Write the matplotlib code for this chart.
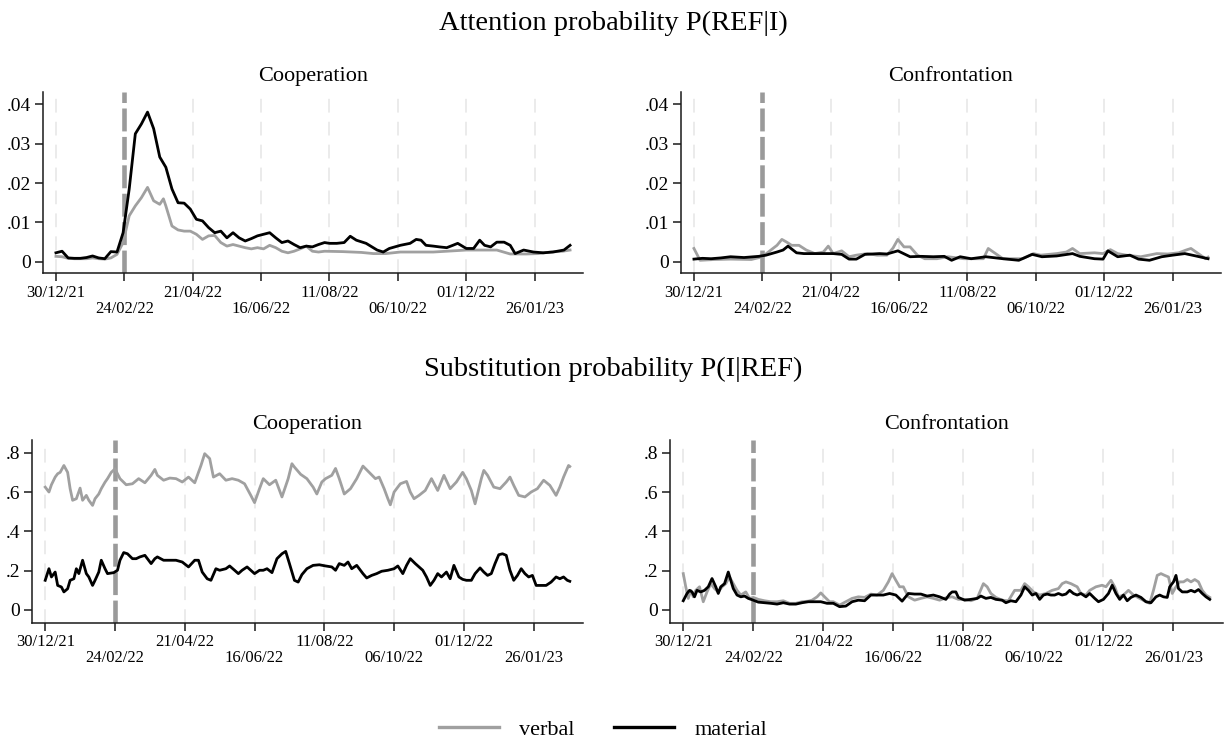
import matplotlib
matplotlib.use("Agg")
import matplotlib.pyplot as plt
import pandas as pd
from matplotlib.lines import Line2D

plt.rcParams['font.family'] = ['Liberation Serif', 'DejaVu Serif']

# ---------------- data ----------------
start_date = "2021-12-30"
event_date = "24/02/22"
tick_labels = ['30/12/21', '24/02/22', '21/04/22', '16/06/22',
               '11/08/22', '06/10/22', '01/12/22', '26/01/23']
series_names = ['verbal', 'material']
main_titles = ['Attention probability P(REF|I)', 'Substitution probability P(I|REF)']
panel_titles = ['Cooperation', 'Confrontation']
att_yticks = [0, 0.01, 0.02, 0.03, 0.04]
att_ylabels = ['0', '.01', '.02', '.03', '.04']
sub_yticks = [0, 0.2, 0.4, 0.6, 0.8]
sub_ylabels = ['0', '.2', '.4', '.6', '.8']

# Attention, Cooperation
att_coop_verbal_days = [0, 5, 10, 15, 20, 25, 30, 35, 40, 45, 50, 55, 60, 65, 70, 75, 80, 85, 88, 90,
                        95, 100, 105, 110, 115, 120, 125, 130, 135, 140, 145, 150, 155, 160, 165, 170,
                        175, 180, 185, 190, 195, 200, 205, 210, 215, 220, 235, 250, 260, 270, 282, 295,
                        309, 320, 336, 350, 361, 372, 385, 395, 405, 415, 421]
att_coop_verbal = [0.0014, 0.0013, 0.0009, 0.0008, 0.0008, 0.0008, 0.001, 0.0008, 0.0007, 0.001,
                   0.0019, 0.0049, 0.0117, 0.0142, 0.0163, 0.0189, 0.0155, 0.0146, 0.016, 0.0142,
                   0.0091, 0.0081, 0.0078, 0.0078, 0.007, 0.0057, 0.0066, 0.0067, 0.0049, 0.004,
                   0.0044, 0.004, 0.0036, 0.0033, 0.0036, 0.0033, 0.0042, 0.0036, 0.0027, 0.0023,
                   0.0027, 0.0033, 0.004, 0.0027, 0.0025, 0.0027, 0.0026, 0.0024, 0.0021, 0.0021,
                   0.0025, 0.0025, 0.0025, 0.0027, 0.003, 0.003, 0.003, 0.002, 0.002, 0.0021,
                   0.0025, 0.0027, 0.003]
att_coop_material_days = [0, 5, 10, 15, 20, 25, 30, 35, 40, 45, 50, 55, 60, 65, 70, 75, 80, 85, 90, 95,
                          100, 105, 110, 115, 120, 125, 130, 135, 140, 145, 150, 155, 160, 165, 170,
                          175, 180, 185, 190, 195, 200, 205, 210, 215, 220, 224, 230, 236, 241, 246,
                          254, 263, 268, 273, 282, 290, 295, 299, 303, 309, 314, 320, 325, 329, 336,
                          342, 347, 351, 356, 361, 367, 372, 376, 383, 391, 399, 407, 416, 421]
att_coop_material = [0.0023, 0.0027, 0.001, 0.0009, 0.0009, 0.0011, 0.0015, 0.001, 0.0008, 0.0026,
                     0.0025, 0.0074, 0.0185, 0.0325, 0.035, 0.038, 0.0338, 0.0266, 0.024, 0.0185,
                     0.015, 0.0149, 0.0134, 0.0108, 0.0104, 0.0087, 0.0074, 0.0078, 0.0061, 0.0074,
                     0.0061, 0.0053, 0.0059, 0.0066, 0.007, 0.0074, 0.0061, 0.0049, 0.0053, 0.0044,
                     0.0036, 0.004, 0.0038, 0.0044, 0.0049, 0.0047, 0.0047, 0.0049, 0.0065, 0.0055,
                     0.0047, 0.003, 0.0025, 0.0034, 0.0042, 0.0047, 0.0057, 0.0055, 0.0042, 0.004,
                     0.0038, 0.0036, 0.0042, 0.0047, 0.0034, 0.0034, 0.0055, 0.0042, 0.0038, 0.005,
                     0.005, 0.0042, 0.0021, 0.003, 0.0025, 0.0023, 0.0025, 0.003, 0.0042]

# Attention, Confrontation
att_conf_verbal_days = [0, 5, 17, 30, 47, 56, 63, 68, 72, 76, 80, 86, 92, 99, 106, 110, 114, 121, 127,
                        133, 142, 150, 158, 163, 167, 172, 177, 183, 189, 199, 208, 221, 237, 241, 247,
                        253, 269, 278, 284, 297, 305, 310, 316, 328, 335, 341, 347, 354, 366, 379, 388,
                        397, 403, 407, 413, 419, 421]
att_conf_verbal = [0.0034, 0.0004, 0.0006, 0.0007, 0.0006, 0.0013, 0.003, 0.0042, 0.0057, 0.005,
                   0.0042, 0.0042, 0.003, 0.0021, 0.0025, 0.004, 0.0021, 0.0028, 0.0013, 0.0017,
                   0.0021, 0.0017, 0.0017, 0.0035, 0.0057, 0.0038, 0.0038, 0.0017, 0.0008, 0.0008,
                   0.0013, 0.0008, 0.0008, 0.0034, 0.0021, 0.0008, 0.0008, 0.0021, 0.0017, 0.0021,
                   0.0025, 0.0034, 0.0021, 0.0023, 0.0021, 0.0031, 0.0021, 0.0017, 0.0013, 0.0021,
                   0.002, 0.0023, 0.003, 0.0034, 0.0021, 0.0008, 0.0012]
att_conf_material_days = [0, 7, 14, 22, 30, 41, 53, 59, 68, 73, 77, 84, 90, 102, 114, 121, 127, 133,
                          140, 152, 158, 167, 177, 186, 196, 205, 211, 218, 227, 239, 253, 266, 277,
                          285, 297, 310, 316, 328, 335, 339, 347, 357, 364, 373, 383, 392, 402, 411, 421]
att_conf_material = [0.0007, 0.0009, 0.0008, 0.001, 0.0013, 0.0011, 0.0014, 0.0017, 0.0025, 0.003,
                     0.004, 0.0023, 0.0021, 0.0021, 0.0021, 0.0019, 0.0007, 0.0007, 0.0019, 0.0021,
                     0.002, 0.0028, 0.0013, 0.0014, 0.0013, 0.0014, 0.0004, 0.0013, 0.0008, 0.0013,
                     0.0008, 0.0004, 0.0019, 0.0013, 0.0015, 0.0021, 0.0014, 0.0008, 0.0007, 0.0028,
                     0.0013, 0.0017, 0.0007, 0.0004, 0.0013, 0.0017, 0.0021, 0.0015, 0.0008]

# Substitution, Cooperation
sub_coop_verbal_days = [0, 3, 5, 8, 10, 12, 15, 18, 20, 22, 25, 28, 30, 33, 35, 38, 40, 43, 45, 48, 50,
                        53, 56, 60, 65, 70, 75, 80, 85, 88, 90, 95, 100, 105, 110, 115, 120, 125, 128,
                        132, 135, 140, 145, 150, 155, 160, 165, 168, 172, 175, 180, 185, 190, 195, 198,
                        200, 205, 210, 215, 218, 222, 225, 230, 233, 236, 240, 245, 250, 255, 260, 265,
                        268, 272, 275, 277, 280, 285, 290, 293, 296, 300, 305, 310, 315, 320, 325, 330,
                        335, 338, 342, 345, 350, 352, 355, 360, 365, 370, 373, 376, 380, 385, 390, 395,
                        400, 405, 410, 413, 416, 420, 421]
sub_coop_verbal = [0.625, 0.60, 0.637, 0.676, 0.693, 0.70, 0.735, 0.70, 0.617, 0.558, 0.566, 0.62,
                   0.558, 0.583, 0.558, 0.532, 0.566, 0.59, 0.617, 0.65, 0.668, 0.70, 0.718, 0.668,
                   0.637, 0.642, 0.668, 0.647, 0.685, 0.715, 0.685, 0.66, 0.671, 0.668, 0.651, 0.676,
                   0.647, 0.735, 0.795, 0.77, 0.676, 0.693, 0.66, 0.668, 0.66, 0.642, 0.583, 0.546,
                   0.617, 0.668, 0.637, 0.66, 0.575, 0.668, 0.744, 0.727, 0.69, 0.668, 0.625, 0.59,
                   0.651, 0.668, 0.685, 0.72, 0.668, 0.59, 0.617, 0.668, 0.732, 0.70, 0.668, 0.676,
                   0.617, 0.566, 0.535, 0.60, 0.642, 0.654, 0.60, 0.566, 0.583, 0.608, 0.668, 0.608,
                   0.685, 0.617, 0.651, 0.70, 0.668, 0.608, 0.54, 0.668, 0.71, 0.685, 0.625, 0.617,
                   0.651, 0.676, 0.634, 0.583, 0.575, 0.60, 0.617, 0.66, 0.634, 0.583, 0.625, 0.676,
                   0.735, 0.73]
sub_coop_material_days = [0, 3, 5, 8, 10, 13, 15, 18, 20, 23, 25, 27, 30, 33, 35, 38, 40, 43, 45, 48,
                          50, 55, 58, 60, 63, 66, 70, 73, 76, 80, 85, 88, 90, 95, 100, 105, 110, 115,
                          120, 123, 126, 130, 133, 137, 140, 145, 148, 152, 155, 158, 162, 165, 168,
                          172, 175, 178, 182, 186, 190, 193, 196, 200, 203, 206, 210, 215, 220, 225,
                          230, 233, 236, 240, 243, 246, 250, 255, 258, 262, 266, 270, 275, 280, 283,
                          287, 290, 293, 297, 300, 303, 306, 309, 312, 315, 318, 322, 325, 328, 332,
                          335, 338, 342, 345, 349, 352, 355, 358, 361, 364, 367, 370, 373, 376, 379,
                          382, 385, 388, 391, 394, 398, 402, 406, 410, 413, 416, 419, 421]
sub_coop_material = [0.151, 0.21, 0.168, 0.193, 0.125, 0.117, 0.092, 0.108, 0.151, 0.159, 0.21, 0.185,
                     0.253, 0.185, 0.168, 0.125, 0.151, 0.193, 0.253, 0.21, 0.185, 0.19, 0.202, 0.253,
                     0.292, 0.286, 0.261, 0.261, 0.27, 0.278, 0.236, 0.261, 0.27, 0.253, 0.253, 0.253,
                     0.244, 0.219, 0.253, 0.253, 0.193, 0.159, 0.151, 0.21, 0.202, 0.21, 0.224, 0.202,
                     0.185, 0.202, 0.219, 0.202, 0.185, 0.202, 0.202, 0.21, 0.19, 0.261, 0.286, 0.298,
                     0.236, 0.151, 0.142, 0.18, 0.21, 0.227, 0.23, 0.224, 0.219, 0.202, 0.236, 0.227,
                     0.244, 0.21, 0.227, 0.185, 0.163, 0.176, 0.185, 0.197, 0.202, 0.21, 0.224, 0.185,
                     0.227, 0.261, 0.236, 0.219, 0.202, 0.168, 0.125, 0.151, 0.185, 0.168, 0.193, 0.159,
                     0.227, 0.168, 0.156, 0.151, 0.151, 0.185, 0.214, 0.193, 0.176, 0.185, 0.236, 0.281,
                     0.286, 0.278, 0.202, 0.151, 0.176, 0.21, 0.185, 0.168, 0.176, 0.125, 0.125, 0.125,
                     0.142, 0.168, 0.159, 0.168, 0.151, 0.146]

# Substitution, Confrontation
sub_conf_verbal_days = [0, 2, 4, 6, 8, 10, 13, 16, 19, 22, 25, 28, 31, 34, 37, 40, 43, 46, 50, 53, 56,
                        60, 65, 70, 75, 80, 85, 90, 95, 100, 103, 107, 110, 113, 117, 120, 125, 130, 135,
                        140, 145, 150, 155, 160, 164, 167, 170, 173, 176, 180, 185, 190, 195, 200, 205,
                        210, 215, 220, 225, 230, 235, 240, 243, 246, 250, 255, 260, 265, 270, 273, 276,
                        280, 285, 290, 295, 300, 303, 306, 310, 315, 318, 322, 325, 330, 335, 338, 342,
                        345, 348, 352, 356, 360, 365, 370, 373, 376, 379, 382, 385, 388, 391, 394, 397,
                        400, 403, 406, 409, 412, 415, 418, 421]
sub_conf_verbal = [0.185, 0.118, 0.059, 0.10, 0.067, 0.10, 0.118, 0.042, 0.092, 0.134, 0.109, 0.092,
                   0.118, 0.134, 0.168, 0.134, 0.10, 0.076, 0.092, 0.059, 0.064, 0.054, 0.047, 0.042,
                   0.042, 0.047, 0.034, 0.034, 0.042, 0.045, 0.05, 0.067, 0.087, 0.067, 0.042, 0.042,
                   0.025, 0.042, 0.059, 0.067, 0.064, 0.081, 0.076, 0.10, 0.143, 0.185, 0.151, 0.118,
                   0.118, 0.067, 0.05, 0.059, 0.067, 0.059, 0.05, 0.062, 0.067, 0.054, 0.054, 0.047,
                   0.059, 0.134, 0.118, 0.084, 0.064, 0.05, 0.047, 0.10, 0.10, 0.134, 0.118, 0.092,
                   0.076, 0.084, 0.10, 0.109, 0.134, 0.143, 0.134, 0.118, 0.084, 0.076, 0.10, 0.118,
                   0.126, 0.118, 0.151, 0.118, 0.067, 0.076, 0.10, 0.076, 0.059, 0.042, 0.034, 0.10,
                   0.176, 0.185, 0.176, 0.168, 0.084, 0.118, 0.143, 0.143, 0.155, 0.143, 0.155, 0.143,
                   0.10, 0.076, 0.064]
sub_conf_material_days = [0, 3, 5, 7, 9, 11, 14, 17, 20, 23, 26, 28, 30, 33, 36, 38, 40, 43, 46, 49, 52,
                          56, 60, 65, 70, 75, 80, 85, 90, 95, 100, 105, 110, 115, 120, 125, 130, 135,
                          140, 145, 150, 155, 160, 165, 170, 175, 180, 185, 190, 195, 200, 205, 210,
                          213, 215, 218, 220, 225, 230, 235, 238, 242, 246, 250, 255, 258, 262, 266,
                          270, 273, 276, 279, 282, 285, 288, 291, 294, 297, 300, 303, 306, 309, 312,
                          315, 318, 322, 325, 329, 332, 336, 340, 343, 346, 349, 352, 355, 358, 362,
                          366, 370, 374, 378, 381, 384, 387, 389, 392, 394, 396, 399, 403, 406, 409,
                          412, 415, 418, 421]
sub_conf_material = [0.047, 0.084, 0.10, 0.092, 0.067, 0.10, 0.092, 0.10, 0.118, 0.16, 0.118, 0.084,
                     0.118, 0.134, 0.193, 0.151, 0.109, 0.076, 0.067, 0.071, 0.059, 0.05, 0.04, 0.037,
                     0.034, 0.03, 0.037, 0.03, 0.03, 0.037, 0.042, 0.042, 0.042, 0.034, 0.034, 0.017,
                     0.02, 0.042, 0.05, 0.047, 0.076, 0.076, 0.076, 0.084, 0.076, 0.045, 0.084, 0.081,
                     0.081, 0.071, 0.076, 0.067, 0.054, 0.081, 0.092, 0.092, 0.064, 0.05, 0.054, 0.059,
                     0.071, 0.059, 0.064, 0.054, 0.05, 0.037, 0.047, 0.042, 0.076, 0.118, 0.10, 0.076,
                     0.084, 0.054, 0.076, 0.081, 0.076, 0.076, 0.084, 0.076, 0.081, 0.10, 0.084, 0.076,
                     0.084, 0.067, 0.084, 0.059, 0.042, 0.054, 0.084, 0.126, 0.084, 0.054, 0.076, 0.047,
                     0.064, 0.076, 0.064, 0.042, 0.037, 0.067, 0.076, 0.067, 0.064, 0.118, 0.143, 0.176,
                     0.109, 0.092, 0.092, 0.10, 0.092, 0.104, 0.084, 0.067, 0.054]

# ---------------- styling ----------------
W, H = 1227, 741
fig = plt.figure(figsize=(W / 100, H / 100), dpi=100)
fig.patch.set_facecolor('white')

VERBAL_C = '#a0a0a0'
MATERIAL_C = '#000000'
EVENT_C = '#9a9a9a'
GRID_C = '#e6e6e6'
LW = 2.0

start = pd.Timestamp(start_date)
tick_dates = [pd.to_datetime(t, format='%d/%m/%y') for t in tick_labels]
event = pd.to_datetime(event_date, format='%d/%m/%y')


def to_dates(days):
    return start + pd.to_timedelta(days, unit='D')


last_day = max(att_coop_material_days)
xlim = (start - pd.Timedelta(days=10.6), start + pd.Timedelta(days=last_day + 10.6))


def px_rect(x0, x1, ytop, ybot):
    return [x0 / W, 1 - ybot / H, (x1 - x0) / W, (ybot - ytop) / H]


panels = [
    (px_rect(43, 583, 92, 273.3), att_coop_verbal_days, att_coop_verbal,
     att_coop_material_days, att_coop_material, att_yticks, att_ylabels, (-0.0029, 0.0431), panel_titles[0]),
    (px_rect(681, 1221, 92, 273.3), att_conf_verbal_days, att_conf_verbal,
     att_conf_material_days, att_conf_material, att_yticks, att_ylabels, (-0.0029, 0.0431), panel_titles[1]),
    (px_rect(32, 583, 440, 622.7), sub_coop_verbal_days, sub_coop_verbal,
     sub_coop_material_days, sub_coop_material, sub_yticks, sub_ylabels, (-0.0646, 0.8646), panel_titles[0]),
    (px_rect(670, 1223, 440, 622.7), sub_conf_verbal_days, sub_conf_verbal,
     sub_conf_material_days, sub_conf_material, sub_yticks, sub_ylabels, (-0.0646, 0.8646), panel_titles[1]),
]

for rect, vd, vv, md, mv, yt, yl, ylim, title in panels:
    ax = fig.add_axes(rect)
    for s in ['top', 'right']:
        ax.spines[s].set_visible(False)
    for s in ['left', 'bottom']:
        ax.spines[s].set_linewidth(1.1)
        ax.spines[s].set_color('#1a1a1a')
    # grid lines at ticks
    for td in tick_dates:
        if td != event:
            ax.axvline(td, color=GRID_C, lw=1.1, ls=(0, (9, 6)), zorder=0)
    ax.axvline(event, color=EVENT_C, lw=3.3, ls=(0, (5, 1.2)), zorder=1)
    ax.plot(to_dates(vd), vv, color=VERBAL_C, lw=LW, zorder=2)
    ax.plot(to_dates(md), mv, color=MATERIAL_C, lw=LW, zorder=3)
    ax.set_xlim(xlim)
    ax.set_ylim(ylim)
    ax.set_yticks(yt)
    ax.set_yticklabels(yl, fontsize=14)
    ax.set_xticks(tick_dates[0::2])
    ax.set_xticklabels(tick_labels[0::2], fontsize=12)
    ax.set_xticks(tick_dates[1::2], minor=True)
    ax.set_xticklabels(tick_labels[1::2], minor=True, fontsize=12)
    ax.tick_params(axis='x', which='both', length=5.8, width=1.1, color='#1a1a1a')
    ax.tick_params(axis='x', which='major', pad=2.5)
    ax.tick_params(axis='x', which='minor', pad=14.0)
    ax.tick_params(axis='y', length=5.5, width=1.1, color='#1a1a1a', pad=3)
    ax.set_title(title, fontsize=16, pad=8)

fig.text(0.5, 1 - 23 / H, main_titles[0], ha='center', va='center', fontsize=20.5)
fig.text(0.5, 1 - 369 / H, main_titles[1], ha='center', va='center', fontsize=20.5)

handles = [Line2D([], [], color=VERBAL_C, lw=2.4), Line2D([], [], color=MATERIAL_C, lw=2.4)]
fig.legend(handles, series_names, loc='center', bbox_to_anchor=(603 / W, 1 - 730 / H), ncol=2,
           frameon=False, fontsize=16, handlelength=2.7, handletextpad=0.9, columnspacing=1.8)

fig.savefig('out.png', dpi=100, facecolor='white')
